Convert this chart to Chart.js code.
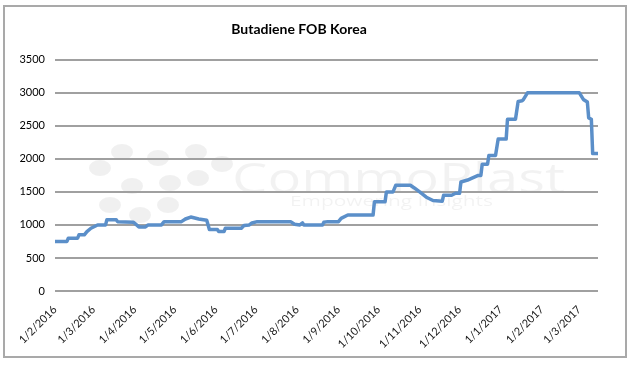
<!DOCTYPE html>
<html>
<head>
<meta charset="utf-8">
<script src="https://cdn.jsdelivr.net/npm/chart.js@4.4.1/dist/chart.umd.min.js"></script>
<style>
html,body{margin:0;padding:0;background:#fff;}
#wrap{width:634px;height:370px;position:relative;}
</style>
</head>
<body>
<div id="wrap"><canvas id="c" width="634" height="370"></canvas></div>
<script>
// ---- data ----
const chartTitle = "Butadiene FOB Korea";
const priceDates = [
 "1/2/2016","10/2/2016","11/2/2016","18/2/2016","19/2/2016","23/2/2016","25/2/2016","28/2/2016",
 "4/3/2016","10/3/2016","11/3/2016","18/3/2016","19/3/2016","31/3/2016","4/4/2016","9/4/2016",
 "11/4/2016","21/4/2016","23/4/2016","6/5/2016","9/5/2016","13/5/2016","19/5/2016","25/5/2016",
 "27/5/2016","2/6/2016","3/6/2016","7/6/2016","8/6/2016","20/6/2016","22/6/2016","26/6/2016",
 "28/6/2016","2/7/2016","27/7/2016","30/7/2016","3/8/2016","5/8/2016","6/8/2016","20/8/2016",
 "21/8/2016","24/8/2016","1/9/2016","3/9/2016","8/9/2016","27/9/2016","28/9/2016","6/10/2016",
 "7/10/2016","12/10/2016","14/10/2016","25/10/2016","28/10/2016","1/11/2016","6/11/2016","11/11/2016",
 "18/11/2016","19/11/2016","25/11/2016","28/11/2016","1/12/2016","2/12/2016","7/12/2016","15/12/2016",
 "17/12/2016","18/12/2016","22/12/2016","23/12/2016","28/12/2016","30/12/2016","5/1/2017","6/1/2017",
 "12/1/2017","14/1/2017","17/1/2017","18/1/2017","21/1/2017","1/3/2017","4/3/2017","7/3/2017",
 "8/3/2017","10/3/2017","11/3/2017","15/3/2017"
];
const priceValues = [
 750,750,800,800,850,850,900,950,
 1000,1000,1080,1080,1050,1040,970,970,
 1000,1000,1050,1050,1090,1120,1090,1070,
 930,930,900,900,950,950,990,1000,
 1030,1050,1050,1010,1000,1030,1000,1000,
 1040,1050,1050,1100,1150,1150,1350,1350,
 1500,1500,1600,1600,1560,1500,1420,1370,
 1360,1450,1450,1480,1480,1650,1680,1750,
 1750,1920,1920,2050,2050,2300,2300,2600,
 2600,2870,2880,2900,3000,3000,2900,2860,
 2620,2600,2080,2080
];
const monthTickLabels = [
 "1/2/2016","1/3/2016","1/4/2016","1/5/2016","1/6/2016","1/7/2016","1/8/2016",
 "1/9/2016","1/10/2016","1/11/2016","1/12/2016","1/1/2017","1/2/2017","1/3/2017"
];
const yTickValues = [0,500,1000,1500,2000,2500,3000,3500];
const axisStartDate = "1/2/2016";
const axisEndDate = "15/3/2017";

// ---- helpers ----
function toUTC(s){ const p=s.split('/').map(Number); return Date.UTC(p[2],p[1]-1,p[0]); }
const t0 = toUTC(axisStartDate);
function dayIndex(s){ return Math.round((toUTC(s)-t0)/86400000); }
const xTickDays = monthTickLabels.map(dayIndex);
const points = priceDates.map((d,i)=>({x:dayIndex(d), y:priceValues[i]}));

const framePlugin = {
  id:'frame',
  beforeDraw(chart){
    const c = chart.ctx;
    c.save();
    c.fillStyle='#ffffff';
    c.fillRect(0,0,chart.width,chart.height);
    c.strokeStyle='#a9a9a9';
    c.lineWidth=2;
    c.strokeRect(4,6,622,351);
    // faint watermark
    c.fillStyle='rgba(0,0,0,0.06)';
    const dots=[[100,168],[122,152],[132,186],[158,158],[170,183],[168,205],[196,152],[198,178],[222,164],[110,205],[140,215]];
    dots.forEach(p=>{c.beginPath();c.ellipse(p[0],p[1],11,8,0,0,Math.PI*2);c.fill();});
    c.fillStyle='rgba(0,0,0,0.05)';
    c.textBaseline='alphabetic';
    c.font='400 42px "Open Sans"';
    let w = c.measureText('CommoPlast').width;
    c.save();
    c.translate(232,193);
    c.scale(333/w,1);
    c.fillText('CommoPlast',0,0);
    c.restore();
    c.font='400 14px "Open Sans"';
    w = c.measureText('Empowering Insights').width;
    c.save();
    c.translate(290,206);
    c.scale(203/w,1);
    c.fillText('Empowering Insights',0,0);
    c.restore();
    c.restore();
  }
};

new Chart(document.getElementById('c').getContext('2d'),{
  type:'line',
  data:{datasets:[{
    data:points,
    borderColor:'#5b8fc9',
    borderWidth:3.5,
    pointRadius:0,
    tension:0,
    fill:false,
    borderJoinStyle:'round',
    borderCapStyle:'round'
  }]},
  options:{
    responsive:false,
    animation:false,
    devicePixelRatio:1,
    layout:{padding:{left:0,right:36,top:0,bottom:0}},
    plugins:{
      legend:{display:false},
      tooltip:{enabled:false},
      title:{display:true,text:chartTitle,color:'#000',
        font:{family:'Lato',size:14,weight:'bold'},padding:{top:21,bottom:22}}
    },
    scales:{
      x:{
        type:'linear',
        min:0,
        max:dayIndex(axisEndDate),
        afterBuildTicks:(s)=>{ s.ticks = xTickDays.map(v=>({value:v})); },
        ticks:{autoSkip:false,minRotation:45,maxRotation:45,
          callback:(v,i)=>monthTickLabels[i],
          color:'#1a1a1a',font:{family:'Lato',size:11},padding:4},
        grid:{display:false},
        border:{display:false},
        afterFit:(s)=>{ s.height=79; }
      },
      y:{
        min:0,max:3500,
        afterBuildTicks:(s)=>{ s.ticks = yTickValues.map(v=>({value:v})); },
        ticks:{color:'#000',font:{family:'Lato',size:11},padding:10,
          callback:(v)=>String(v)},
        grid:{color:'#a0a0a0',lineWidth:2,drawTicks:false},
        border:{display:false},
        afterFit:(s)=>{ s.width=55; }
      }
    }
  },
  plugins:[framePlugin]
});
</script>
</body>
</html>
